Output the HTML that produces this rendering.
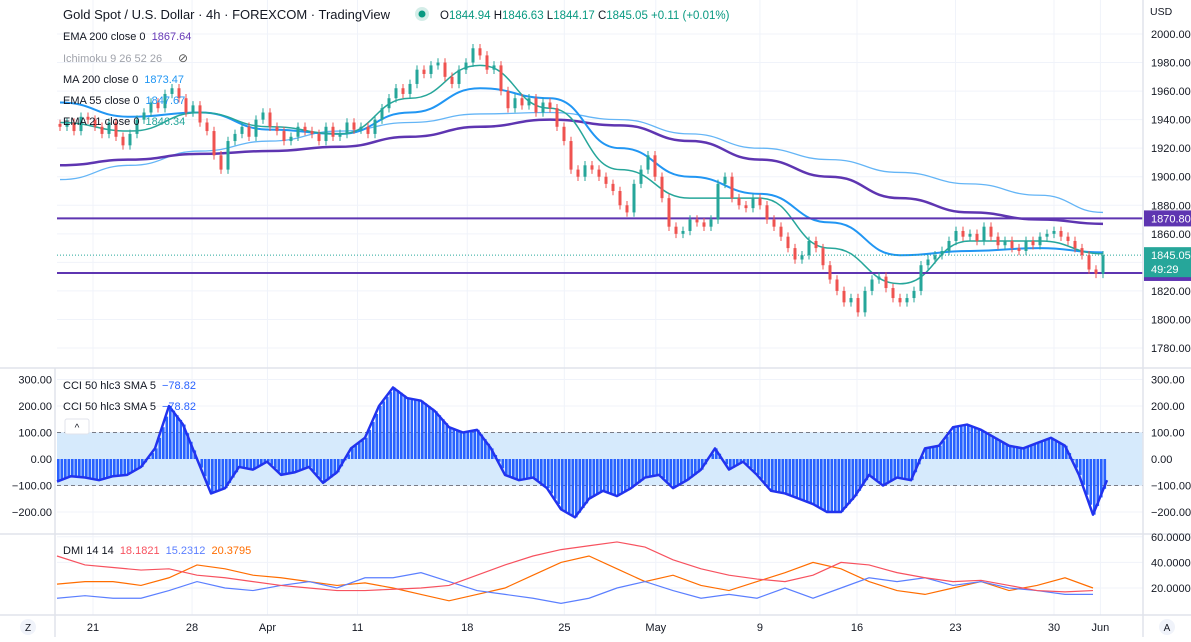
<!DOCTYPE html>
<html><head><meta charset="utf-8">
<style>
html,body{margin:0;padding:0;background:#fff;}
body{width:1191px;height:637px;overflow:hidden;font-family:"Liberation Sans",sans-serif;}
svg text{font-family:"Liberation Sans",sans-serif;}
</style></head>
<body>
<svg id="chart" width="1191" height="637" viewBox="0 0 1191 637" xmlns="http://www.w3.org/2000/svg">
<g id="grid"></g>
<g id="main"></g>
<g id="cci"></g>
<g id="dmi"></g>
<g id="axes"></g>
<g id="legend">
<text x="63" y="19" font-size="13" fill="#131722">Gold Spot / U.S. Dollar · 4h · FOREXCOM · TradingView</text>
<circle cx="422" cy="14" r="7" fill="#d4ede8"/>
<circle cx="422" cy="14" r="3.5" fill="#089981"/>
<text x="440" y="19" font-size="11.5" fill="#089981"><tspan fill="#131722">O</tspan>1844.94 <tspan fill="#131722">H</tspan>1846.63 <tspan fill="#131722">L</tspan>1844.17 <tspan fill="#131722">C</tspan>1845.05 +0.11 (+0.01%)</text>
<text x="63" y="40" font-size="11" fill="#131722">EMA 200 close 0 <tspan fill="#673ab7" dx="3">1867.64</tspan></text>
<text x="63" y="62" font-size="11" fill="#a0a3ab">Ichimoku 9 26 52 26</text>
<text x="178" y="62" font-size="12" fill="#555">⊘</text>
<text x="63" y="83" font-size="11" fill="#131722">MA 200 close 0 <tspan fill="#2196f3" dx="3">1873.47</tspan></text>
<text x="63" y="104" font-size="11" fill="#131722">EMA 55 close 0 <tspan fill="#2196f3" dx="3">1847.67</tspan></text>
<text x="63" y="125" font-size="11" fill="#131722">EMA 21 close 0 <tspan fill="#26a69a" dx="3">1846.34</tspan></text>
<text x="63" y="389" font-size="11" fill="#131722">CCI 50 hlc3 SMA 5 <tspan fill="#2962ff" dx="3">−78.82</tspan></text>
<text x="63" y="410" font-size="11" fill="#131722">CCI 50 hlc3 SMA 5 <tspan fill="#2962ff" dx="3">−78.82</tspan></text>
<rect x="65" y="419" width="24" height="15" rx="2" fill="#fff" stroke="#e0e3eb"/>
<text x="77" y="431" font-size="10" text-anchor="middle" fill="#131722">^</text>
<text x="63" y="554" font-size="11" fill="#131722">DMI 14 14 <tspan fill="#f7525f" dx="3">18.1821</tspan> <tspan fill="#5b7fff" dx="3">15.2312</tspan> <tspan fill="#ff6d00" dx="3">20.3795</tspan></text>
</g>
</svg>
<script>
// ---- price data ----
const closes=[1935,1938,1932,1942,1940,1935,1930,1938,1928,1922,1930,1940,1945,1952,1948,1958,1962,1955,1945,1950,1938,1932,1915,1905,1925,1930,1935,1928,1940,1945,1935,1932,1925,1928,1935,1932,1930,1925,1935,1928,1930,1938,1933,1935,1930,1940,1948,1955,1962,1958,1965,1975,1972,1978,1980,1970,1965,1975,1980,1990,1985,1975,1978,1960,1948,1955,1950,1955,1945,1952,1948,1935,1925,1905,1900,1908,1905,1900,1895,1890,1880,1875,1895,1905,1915,1900,1885,1865,1860,1862,1870,1868,1865,1870,1895,1900,1885,1880,1878,1885,1880,1870,1865,1858,1850,1842,1845,1855,1850,1838,1828,1820,1812,1815,1805,1820,1828,1830,1822,1815,1812,1815,1820,1838,1842,1845,1848,1855,1862,1858,1860,1855,1865,1858,1852,1855,1850,1848,1855,1852,1858,1860,1862,1858,1855,1850,1845,1835,1832,1845];
const ma200=[1898,1908,1918,1925,1932,1938,1944,1945,1940,1930,1920,1912,1903,1895,1887,1875];
const ema200=[1908,1912,1916,1918,1921,1928,1935,1940,1936,1925,1912,1900,1885,1875,1870,1867];
const ema55=[1952,1942,1945,1933,1930,1945,1962,1955,1920,1900,1888,1868,1845,1848,1850,1847];
const ema21=[1938,1932,1945,1935,1930,1955,1978,1948,1905,1885,1885,1850,1825,1855,1855,1846];
const hlines=[1870.80,1832.58];
const lastPrice=1845.05;
const priceTicks=[2000,1980,1960,1940,1920,1900,1880,1860,1840,1820,1800,1780];
// ---- CCI ----
const cciVals=[-85,-65,-70,-80,-65,-60,-30,40,200,130,0,-130,-110,-30,-40,-10,-60,-50,-30,-90,-50,40,80,200,270,230,220,180,120,100,110,40,-60,-80,-70,-110,-190,-220,-150,-120,-140,-110,-70,-60,-110,-80,-40,40,-40,-10,-60,-120,-130,-150,-170,-200,-200,-140,-60,-100,-70,-80,40,50,120,130,110,80,50,40,60,80,50,-60,-210,-80];
const cciTicks=[300,200,100,0,-100,-200];
// ---- DMI ----
const dmiRed=[45,38,36,34,35,30,28,25,22,20,18,18,19,20,22,30,38,45,50,53,56,52,42,35,30,27,25,30,40,38,32,28,25,26,22,18,17,18];
const dmiBlue=[12,14,12,12,18,25,20,18,22,25,20,28,28,32,25,18,15,12,8,12,20,25,18,12,15,12,20,12,20,28,25,28,22,25,20,18,15,15];
const dmiOrange=[23,25,25,22,28,38,35,30,28,25,22,24,20,15,10,15,20,30,40,45,35,25,30,22,18,25,32,40,35,25,18,15,20,25,18,22,28,20];
const dmiTicks=[60,40,20];
// ---- time axis (trading-time offsets in days from Mar 21) ----
const dateLabels=["21","28","Apr","11","18","25","May","9","16","23","30","Jun"];
const dateDays=[0,7.04,12.4,18.8,26.6,33.5,40,47.4,54.3,61.3,68.3,71.6];

const NS="http://www.w3.org/2000/svg";
function mk(p,t,a){const e=document.createElementNS(NS,t);for(const k in a)e.setAttribute(k,a[k]);p.appendChild(e);return e;}
const X0=57,PX=1143;
const py=p=>34+(2000-p)*1.4273;
const cy=v=>459-v*0.265;
const dy=v=>588-(v-20)*1.28;
const dx=d=>93+d*14.07;
const cx=i=>60+i*7;
const grid=document.getElementById('grid'),main=document.getElementById('main'),cci=document.getElementById('cci'),dmi=document.getElementById('dmi'),axes=document.getElementById('axes');

dateDays.forEach(d=>{const l=mk(grid,'line',{x1:dx(d),x2:dx(d),y1:0,y2:615,stroke:'#f0f3fa'});

});
priceTicks.forEach(p=>{const l=mk(grid,'line',{x1:X0,x2:PX,y1:py(p),y2:py(p),stroke:'#f0f3fa'});

});
cciTicks.forEach(v=>{const l=mk(grid,'line',{x1:X0,x2:PX,y1:cy(v),y2:cy(v),stroke:'#f0f3fa'});

});
dmiTicks.forEach(v=>{const l=mk(grid,'line',{x1:X0,x2:PX,y1:dy(v),y2:dy(v),stroke:'#f0f3fa'});

});

function maLine(arr,color,w,name){
 const pts=arr.map((v,i)=>[cx(Math.min(i*10,149)),py(v)]);
 let d='M'+pts[0][0]+','+pts[0][1];
 for(let i=1;i<pts.length;i++){const p0=pts[i-1],p1=pts[i],mx=(p0[0]+p1[0])/2;d+=` C${mx},${p0[1]} ${mx},${p1[1]} ${p1[0]},${p1[1]}`;}
 const e=mk(main,'path',{d:d,fill:'none',stroke:color,'stroke-width':w});
 
 
}
maLine(ma200,'#64b5f6',1.3,'ma200-line');
maLine(ema200,'#5e35b1',2.5,'ema200-line');
maLine(ema55,'#2196f3',2,'ema55-line');
maLine(ema21,'#26a69a',1.5,'ema21-line');

hlines.forEach(h=>{const l=mk(main,'line',{x1:X0,x2:PX,y1:py(h),y2:py(h),stroke:'#5e35b1','stroke-width':2});

});
const ll=mk(main,'line',{x1:X0,x2:PX,y1:py(lastPrice),y2:py(lastPrice),stroke:'#26a69a','stroke-dasharray':'1 2'});



closes.forEach((c,i)=>{
 const o=i?closes[i-1]:c+2;const up=c>=o;const col=up?'#26a69a':'#ef5350';
 const hi=Math.max(o,c)+3,lo=Math.min(o,c)-3;const x=cx(i);
 const w=mk(main,'line',{x1:x,x2:x,y1:py(hi),y2:py(lo),stroke:col});
 
 
 const b=mk(main,'rect',{x:x-1.5,y:py(Math.max(o,c)),width:3,height:Math.max(1,Math.abs(py(o)-py(c))),fill:col});
 
 
});

const band=mk(cci,'rect',{x:X0,y:cy(100),width:PX-X0,height:cy(-100)-cy(100),fill:'#d6eafc'});


[100,-100].forEach(v=>{const l=mk(cci,'line',{x1:X0,x2:PX,y1:cy(v),y2:cy(v),stroke:'#787b86','stroke-dasharray':'4 3'});

});
const cx2=i=>57+i*14;
for(let i=0;i<cciVals.length-1;i++){for(let k=0;k<4;k++){
 const t=k/4,v=cciVals[i]*(1-t)+cciVals[i+1]*t,x=cx2(i)+t*14;
 const r=mk(cci,'rect',{x:x,y:Math.min(cy(0),cy(v)),width:2.6,height:Math.abs(cy(v)-cy(0)),fill:'#2962ff'});
 
 }}
const cciPath=mk(cci,'polyline',{points:cciVals.map((v,i)=>cx2(i)+','+cy(v)).join(' '),fill:'none',stroke:'#2233ee','stroke-width':2.5,'stroke-linejoin':'round'});



const dx2=i=>57+i*28;
[[dmiOrange,'#ff6d00','dmi-adx-line'],[dmiBlue,'#5b7fff','dmi-minus-line'],[dmiRed,'#f7525f','dmi-plus-line']].forEach(([arr,col,n])=>{
 const p=mk(dmi,'polyline',{points:arr.map((v,i)=>dx2(i)+','+dy(v)).join(' '),fill:'none',stroke:col,'stroke-width':1.2});
 
 });

[[0,368,1191,368],[0,534,1191,534],[0,615,1191,615],[55,368,55,637],[1143,0,1143,637]].forEach(a=>{
 const l=mk(axes,'line',{x1:a[0],y1:a[1],x2:a[2],y2:a[3],stroke:'#e0e3eb','stroke-width':1.5});
 
 });
const usd=mk(axes,'text',{x:1150,y:15,'font-size':10.5,fill:'#131722'});usd.textContent='USD';


priceTicks.forEach(p=>{const t=mk(axes,'text',{x:1151,y:py(p)+4,'font-size':11,fill:'#131722'});t.textContent=p.toFixed(2);

});
cciTicks.forEach(v=>{[[1151,'start'],[52,'end']].forEach(([x,a])=>{const t=mk(axes,'text',{x:x,y:cy(v)+4,'font-size':11,fill:'#131722','text-anchor':a});t.textContent=(v<0?'−':'')+Math.abs(v).toFixed(2);

});});
dmiTicks.forEach(v=>{const t=mk(axes,'text',{x:1151,y:dy(v)+4,'font-size':11,fill:'#131722'});t.textContent=v.toFixed(4);

});
[[1870.80,'#5e35b1',null,'level-label-upper'],[1832.58,'#5e35b1',null,'level-label-lower'],[lastPrice,'#26a69a','49:29','last-price-label']].forEach(([p,col,sub,n])=>{
 const h=sub?30:16,y=py(p)-8;
 const r=mk(axes,'rect',{x:1144,y:y,width:47,height:h,fill:col});
 
 
 const t=mk(axes,'text',{x:1151,y:y+12,'font-size':11,fill:'#fff'});t.textContent=p.toFixed(2);
 
 
 if(sub){const s=mk(axes,'text',{x:1151,y:y+26,'font-size':11,fill:'#fff'});s.textContent=sub;
 
 }
});
dateLabels.forEach((l,i)=>{const t=mk(axes,'text',{x:dx(dateDays[i]),y:631,'font-size':11,fill:'#131722','text-anchor':'middle'});t.textContent=l;

});
[[28,'Z','zoom-reset-button'],[1167,'A','auto-scale-button']].forEach(([x,l,n])=>{
 const c=mk(axes,'circle',{cx:x,cy:627,r:8,fill:'#f0f3fa'});
 
 
 const t=mk(axes,'text',{x:x,y:631,'font-size':10,fill:'#131722','text-anchor':'middle'});t.textContent=l;
 
 });
</script>
</body></html>
